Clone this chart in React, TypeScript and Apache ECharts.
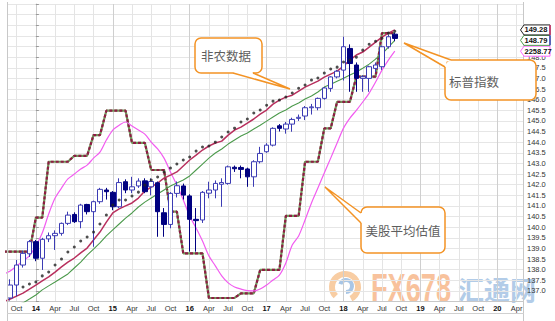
import React, { useEffect, useRef } from 'react';
import * as echarts from 'echarts';

// ---- data (monthly) ----
const months = [
  '2013-08', '2013-09', '2013-10', '2013-11', '2013-12',
  '2014-01', '2014-02', '2014-03', '2014-04', '2014-05', '2014-06', '2014-07', '2014-08', '2014-09', '2014-10', '2014-11', '2014-12',
  '2015-01', '2015-02', '2015-03', '2015-04', '2015-05', '2015-06', '2015-07', '2015-08', '2015-09', '2015-10', '2015-11', '2015-12',
  '2016-01', '2016-02', '2016-03', '2016-04', '2016-05', '2016-06', '2016-07', '2016-08', '2016-09', '2016-10', '2016-11', '2016-12',
  '2017-01', '2017-02', '2017-03', '2017-04', '2017-05', '2017-06', '2017-07', '2017-08', '2017-09', '2017-10', '2017-11', '2017-12',
  '2018-01', '2018-02', '2018-03', '2018-04', '2018-05', '2018-06', '2018-07', '2018-08', '2018-09',
];

// S&P candles [open, close, low, high]
const candles: (number[] | null)[] = [
  null, [136.67, 137.28, 136.55, 137.55], [137.28, 138.22, 136.75, 138.46], [138.22, 138.77, 138.1, 138.9], [138.75, 139.32, 138.6, 139.4],
  [139.32, 138.54, 138.4, 139.4], [138.54, 139.43, 137.99, 139.5], [139.45, 139.6, 139.3, 139.75], [139.6, 139.71, 138.93, 139.85],
  [139.71, 140.18, 139.6, 140.22], [140.18, 140.57, 140.1, 140.73], [140.6, 140.26, 140.2, 140.7], [140.26, 141.04, 139.95, 141.1],
  [141.07, 140.73, 140.6, 141.1], [140.73, 141.2, 139.08, 141.25], [141.2, 141.78, 141.1, 141.85], [141.75, 141.67, 141.3, 141.85],
  [141.64, 140.96, 140.8, 141.7], [140.96, 142.1, 140.9, 142.3], [142.14, 141.75, 141.6, 142.25], [141.75, 141.9, 141.6, 142.37],
  [141.94, 142.17, 141.85, 142.3], [142.18, 141.67, 141.6, 142.3], [141.9, 142.15, 141.5, 142.3], [142.09, 140.73, 139.55, 142.15],
  [140.68, 140.13, 139.55, 140.9], [140.13, 141.59, 139.95, 141.65], [141.59, 141.95, 141.4, 142.15], [141.94, 141.51, 141.3, 142.05],
  [141.47, 140.37, 138.85, 141.55], [140.37, 140.31, 138.85, 140.9], [140.34, 141.64, 140.2, 141.7], [141.6, 141.75, 141.36, 142.14],
  [141.75, 142.06, 141.36, 142.2], [142.02, 142.1, 140.96, 142.3], [142.06, 142.84, 142.0, 142.9], [142.82, 142.75, 142.6, 142.9],
  [142.81, 142.72, 142.3, 142.9], [142.74, 142.37, 141.9, 142.8], [142.37, 143.08, 141.9, 143.15], [143.08, 143.47, 143.0, 143.78],
  [143.55, 143.86, 143.5, 143.95], [143.86, 144.65, 143.8, 144.7], [144.77, 144.65, 144.5, 144.85], [144.62, 144.85, 144.4, 144.95],
  [144.85, 145.07, 144.49, 145.15], [145.12, 145.17, 145.0, 145.3], [145.23, 145.62, 145.04, 145.7], [145.62, 145.66, 145.3, 145.8],
  [145.62, 146.06, 145.5, 146.1], [146.06, 146.55, 146.0, 146.6], [146.53, 147.07, 146.37, 147.1], [147.07, 147.34, 147.0, 147.4],
  [147.39, 148.49, 146.9, 148.96], [148.41, 147.7, 146.37, 148.6], [147.63, 147.0, 146.37, 147.75], [147.0, 147.08, 146.37, 147.15],
  [147.0, 147.55, 146.37, 147.6], [147.47, 147.63, 147.3, 147.75], [147.55, 148.49, 147.4, 148.55], [148.49, 148.96, 148.4, 149.05],
  [149.08, 148.88, 148.75, 149.15],
];

// stepped valuation line (dashed)
const stepLine = [
  138.85, 138.85, 138.85, 138.85, 138.85,
  140.45, 140.45, 143.08, 143.08, 143.08, 143.08, 143.36, 143.36, 143.36, 144.33, 144.33, 145.48,
  145.48, 145.48, 145.48, 143.97, 143.97, 143.97, 142.69, 142.69, 142.69, 140.73, 140.73, 138.77,
  138.77, 138.77, 138.77, 136.67, 136.67, 136.67, 136.67, 136.67, 136.89, 136.89, 136.89, 137.99,
  137.99, 137.99, 137.99, 140.53, 140.53, 140.53, 143.08, 143.08, 143.08, 144.65, 144.65, 145.9,
  145.9, 145.9, 147.08, 147.08, 147.08, 147.08, 149.13, 149.13, 149.13,
];

// 美股平均估值 (pink)
const pinkLine = [
  137.8, 137.94, 138.18, 138.41, 138.65,
  139.12, 139.73, 140.62, 141.37, 141.84, 142.27, 142.5, 142.74, 142.92, 143.25, 143.53, 144.1,
  144.57, 144.8, 144.95, 144.76, 144.57, 144.38, 144.0, 143.68, 143.25, 142.6, 141.98, 141.28,
  140.53, 139.96, 139.35, 138.65, 138.18, 137.71, 137.38, 137.19, 137.09, 137.02, 137.0, 137.09,
  137.28, 137.52, 137.75, 138.32, 139.16, 139.59, 140.34, 141.14, 141.84, 142.55, 143.25, 143.96,
  144.66, 145.13, 145.5, 145.89, 146.31, 146.83, 147.39, 147.86, 148.28,
];
const pinkLastLabel = '2258.77';

const redMA = [
  136.5, 136.62, 136.76, 136.9, 137.09,
  137.28, 137.47, 137.66, 137.89, 138.13, 138.36, 138.55, 138.79, 139.02, 139.4, 139.77, 140.24,
  140.67, 140.86, 141.0, 141.14, 141.37, 141.7, 141.89, 142.08, 142.31, 142.45, 142.6, 142.88,
  143.16, 143.39, 143.63, 143.82, 143.96, 144.05, 144.33, 144.57, 144.71, 144.9, 145.09, 145.32,
  145.51, 145.79, 145.98, 146.12, 146.21, 146.4, 146.59, 146.73, 146.87, 147.06, 147.2, 147.34,
  147.58, 147.86, 148.1, 148.24, 148.47, 148.71, 148.94, 149.13, 149.28,
];

const greenMA = [
  136.2, 136.28, 136.35, 136.44, 136.62,
  136.81, 137.05, 137.24, 137.42, 137.61, 137.8, 138.08, 138.36, 138.69, 138.97, 139.26, 139.59,
  139.87, 140.15, 140.43, 140.67, 140.95, 141.18, 141.37, 141.56, 141.75, 141.94, 142.08, 142.22,
  142.41, 142.69, 142.97, 143.25, 143.49, 143.68, 143.91, 144.1, 144.29, 144.43, 144.62, 144.8,
  144.99, 145.18, 145.37, 145.51, 145.7, 145.84, 146.03, 146.17, 146.36, 146.59, 146.73, 146.87,
  147.01, 147.16, 147.3, 147.48, 147.67, 147.91, 148.14, 148.47, 148.79,
];

// 非农数据 (dots)
const payrollDots: (number | null)[] = [
  null, null, null, 137.19, 137.33,
  137.42, 137.71, 137.89, 138.22, 138.5, 138.83, 139.07, 139.35, 139.54, 139.77, 140.15, 140.57,
  141.04, 141.28, 141.28, 141.47, 141.65, 141.98, 142.22, 142.36, 142.6, 142.78, 142.97, 143.16,
  143.3, 143.58, 143.77, 143.82, 144.0, 144.24, 144.48, 144.66, 144.95, 145.09, 145.37, 145.51,
  145.74, 145.93, 145.98, 146.12, 146.31, 146.54, 146.69, 146.92, 147.02, 147.25, 147.44, 147.53,
  147.77, 147.86, 148.0, 148.33, 148.61, 148.75, 148.89, 149.13, 149.22,
];

const xTickMonths = [
  '2013-10', '2014-01', '2014-04', '2014-07', '2014-10', '2015-01', '2015-04', '2015-07', '2015-10',
  '2016-01', '2016-04', '2016-07', '2016-10', '2017-01', '2017-04', '2017-07', '2017-10',
  '2018-01', '2018-04', '2018-07', '2018-10', '2019-01', '2019-04', '2019-07', '2019-10', '2020-01', '2020-04',
];
const xTickLabels = [
  'Oct', '14', 'Apr', 'Jul', 'Oct', '15', 'Apr', 'Jul', 'Oct',
  '16', 'Apr', 'Jul', 'Oct', '17', 'Apr', 'Jul', 'Oct',
  '18', 'Apr', 'Jul', 'Oct', '19', 'Apr', 'Jul', 'Oct', '20', 'Apr',
];

const ORANGE = '#f39325';

const mx = (s: string) => {
  const [y, m] = s.split('-').map(Number);
  return (y - 2014) * 12 + (m - 1);
};

export default function App() {
  const ref = useRef<HTMLDivElement>(null);

  useEffect(() => {
    const chart = echarts.init(ref.current!, null, { renderer: 'svg' });
    const pts = (arr: (number | null)[]) =>
      months.map((s, i) => (arr[i] == null ? null : [mx(s), arr[i]])).filter(Boolean) as number[][];
    const candleData = months
      .map((s, i) => (candles[i] ? [mx(s), ...(candles[i] as number[])] : null))
      .filter(Boolean) as number[][];
    const xTickVals = xTickMonths.map(mx);
    const labelFor = (v: number) => {
      const i = xTickVals.indexOf(Math.round(v));
      if (i < 0) return '';
      const t = xTickLabels[i];
      return /^\d+$/.test(t) ? `{y|${t}}` : t;
    };
    const font = 'Liberation Sans';

    chart.setOption({
      animation: false,
      backgroundColor: '#ffffff',
      grid: { left: 7, right: 32, top: 4, bottom: 19.4, containLabel: false },
      xAxis: {
        type: 'value',
        z: 1,
        min: -4.5,
        max: 76,
        axisLine: { show: true, lineStyle: { color: '#c8c8c8' } },
        axisTick: { show: false, customValues: xTickVals },
        axisLabel: {
          customValues: xTickVals,
          margin: 3,
          fontSize: 7.5,
          color: '#333',
          fontFamily: font,
          formatter: (v: number) => labelFor(v),
          rich: { y: { fontWeight: 'bold', fontSize: 7.5, color: '#111', fontFamily: font } },
        },
        splitLine: {
          show: true,
          lineStyle: { color: ['#e4e4e4', '#cfcfcf', '#e4e4e4', '#e4e4e4'], width: 1 },
        },
      },
      yAxis: {
        type: 'value',
        z: 1,
        position: 'right',
        min: 136.5,
        max: 150.5,
        interval: 0.5,
        axisLine: { show: true, lineStyle: { color: '#c8c8c8' } },
        axisTick: { show: true, length: 3, lineStyle: { color: '#999' } },
        axisLabel: {
          margin: 4,
          fontSize: 7.5,
          color: '#333',
          fontFamily: font,
          formatter: (v: number) => (v >= 137 && v <= 148 ? v.toFixed(1) : ''),
        },
        splitLine: { show: true, lineStyle: { color: '#e6e6e6' } },
      },
      series: [
        {
          name: 'stepBase', type: 'line', data: pts(stepLine), symbol: 'none', z: 2,
          lineStyle: { color: '#6f9a5a', width: 2.2 },
        },
        {
          name: 'step', type: 'line', data: pts(stepLine), symbol: 'none', z: 3,
          lineStyle: { color: '#8e1c44', width: 2.2, type: [3, 2] },
        },
        {
          name: 'pink', type: 'line', data: pts(pinkLine), symbol: 'none', smooth: 0.3, z: 3,
          lineStyle: { color: '#f25cf0', width: 1.2 },
        },
        {
          name: 'green', type: 'line', data: pts(greenMA), symbol: 'none', z: 3,
          lineStyle: { color: '#4c9a4c', width: 1.1 },
        },
        {
          name: 'red', type: 'line', data: pts(redMA), symbol: 'none', z: 3,
          lineStyle: { color: '#b8305e', width: 1.5 },
        },
        {
          name: 'sp', type: 'candlestick', data: candleData, barWidth: 5, z: 4,
          encode: { x: 0, y: [1, 2, 3, 4] },
          itemStyle: {
            color: '#ffffff', color0: '#000080',
            borderColor: '#3c3cb4', borderColor0: '#000080', borderWidth: 1,
          },
        },
        {
          name: 'dots', type: 'scatter', data: pts(payrollDots), symbol: 'circle', symbolSize: 3, z: 5,
          itemStyle: { color: '#222' },
        },
      ],
    });

    const py = (v: number) => chart.convertToPixel({ yAxisIndex: 0 }, v) as number;
    const tag = (v: number, text: string, stroke: string, accent: string | null) => {
      const y = py(v);
      const els: any[] = [
        {
          type: 'polygon', z: 110,
          shape: { points: [[520.5, y], [524, y - 5], [550, y - 5], [550, y + 5], [524, y + 5]] },
          style: { fill: '#ffffff', stroke, lineWidth: 1 },
        },
        {
          type: 'text', z: 111, x: 524.5, y,
          style: {
            text, fill: '#111', fontSize: 7.5, fontWeight: 'bold', fontFamily: font,
            align: 'left', verticalAlign: 'middle', textAlign: 'left', textVerticalAlign: 'middle',
          },
        },
      ];
      if (accent) {
        els.push({ type: 'line', z: 112, shape: { x1: 550, y1: y - 5, x2: 550, y2: y + 5 }, style: { stroke: accent, lineWidth: 1.5 } });
      }
      return els;
    };

    const callout = (
      rect: number[], cover: number[][], base: number[][], tip: number[], text: string, tx: number, ty: number,
    ) => [
      {
        type: 'rect', z: 100,
        shape: { x: rect[0], y: rect[1], width: rect[2], height: rect[3], r: 6 },
        style: { fill: '#ffffff', stroke: ORANGE, lineWidth: 1.5 },
      },
      { type: 'polygon', z: 101, shape: { points: [tip, ...cover] }, style: { fill: '#ffffff' } },
      {
        type: 'polyline', z: 102, shape: { points: [base[0], tip, base[1]] },
        style: { stroke: ORANGE, lineWidth: 1.5, fill: null },
      },
      {
        type: 'text', z: 103, x: tx, y: ty,
        style: {
          text, fill: '#5e5e5e', fontSize: 12.5, fontFamily: '"Noto Sans CJK SC"',
          align: 'center', verticalAlign: 'middle', textAlign: 'center', textVerticalAlign: 'middle',
        },
      },
    ];

    const last = (a: number[]) => a[a.length - 1];

    chart.setOption({
      graphic: [
        // frame lines
        { type: 'line', z: 90, shape: { x1: 7.5, y1: 2, x2: 7.5, y2: 321 }, style: { stroke: '#c8c8c8', lineWidth: 1 } },
        { type: 'line', z: 90, shape: { x1: 523.5, y1: 2, x2: 523.5, y2: 321 }, style: { stroke: '#c8c8c8', lineWidth: 1 } },
        { type: 'line', z: 90, shape: { x1: 7, y1: 313.5, x2: 524, y2: 313.5 }, style: { stroke: '#d0d0d0', lineWidth: 1 } },
        // watermark (below axes)
        {
          type: 'arc', z: 0, shape: { cx: 345, cy: 287, r: 13, startAngle: Math.PI * 0.75, endAngle: Math.PI * 2.35 },
          style: { stroke: '#f8cda3', lineWidth: 6, fill: null },
        },
        {
          type: 'arc', z: 0, shape: { cx: 346, cy: 286, r: 6, startAngle: Math.PI * 1.1, endAngle: Math.PI * 2.5 },
          style: { stroke: '#a8c6e6', lineWidth: 4, fill: null },
        },
        {
          type: 'text', z: 0, x: 371, y: 288, scaleX: 0.68,
          style: {
            text: 'FX678', fill: '#f8c29c', fontSize: 40, fontWeight: 'bold', fontFamily: font,
            align: 'left', verticalAlign: 'middle', textAlign: 'left', textVerticalAlign: 'middle',
          },
        },
        {
          type: 'text', z: 0, x: 458, y: 288,
          style: {
            text: '汇通网', fill: '#b2cce8', fontSize: 26, fontWeight: 'bold', fontFamily: '"Noto Sans CJK SC"',
            align: 'left', verticalAlign: 'middle', textAlign: 'left', textVerticalAlign: 'middle',
          },
        },
        // callouts
        ...callout([195, 38, 67, 35], [[233, 73], [234, 71.5], [252, 71.5], [253, 73]], [[233, 73], [253, 73]], [290, 89], '非农数据', 226, 55),
        ...callout([445, 60, 91, 40], [[451, 60], [451, 61.5], [446.5, 61.5], [446.5, 67], [445, 67]], [[451, 60], [445, 67]], [404, 43], '标普指数', 474, 81),
        ...callout([361, 207, 84, 46], [[361, 213], [362.5, 213], [362.5, 223], [361, 223]], [[361, 213], [361, 223]], [325, 187], '美股平均估值', 403, 230),
        // value tags
        ...tag(last(pinkLine), pinkLastLabel, '#ff66ff', null),
        ...tag(last(greenMA), last(greenMA).toFixed(2), '#4c9a4c', '#4040c0'),
        ...tag(last(redMA), last(redMA).toFixed(2), '#222222', '#d0306a'),
      ],
    });

    return () => chart.dispose();
  }, []);

  return (
    <div
      ref={ref}
      style={{ position: 'fixed', left: 0, top: 0, width: 555, height: 321, background: '#fff' }}
    />
  );
}
